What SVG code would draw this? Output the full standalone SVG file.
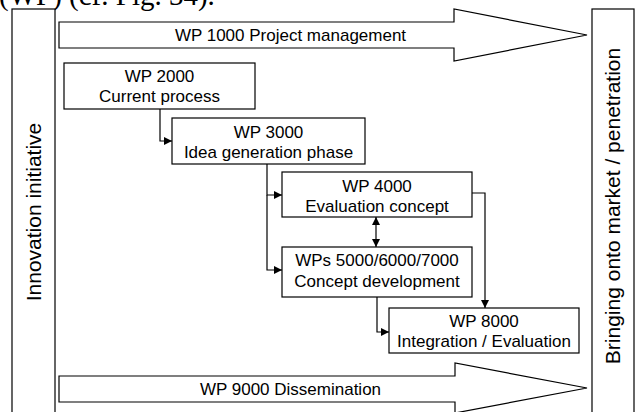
<svg xmlns="http://www.w3.org/2000/svg" width="637" height="412" viewBox="0 0 637 412">
  <style>
    .box { fill: #fff; stroke: #000; stroke-width: 1.2; }
    .lbl { font-family: "Liberation Sans", Arial, sans-serif; font-size: 17px; fill: #000; text-anchor: middle; }
    .side { font-family: "Liberation Sans", Arial, sans-serif; font-size: 21px; fill: #000; text-anchor: middle; }
    .cap { font-family: "Liberation Serif", "Times New Roman", serif; font-size: 29px; fill: #000; }
    .wire { fill: none; stroke: #000; stroke-width: 1.2; }
  </style>
  <defs>
    <marker id="tip" viewBox="0 0 10 10" refX="10" refY="5" markerWidth="9" markerHeight="8" markerUnits="userSpaceOnUse" orient="auto-start-reverse">
      <path d="M0,0 L10,5 L0,10 Z" fill="#000"/>
    </marker>
  </defs>
  <rect width="637" height="412" fill="#fff"/>

  <!-- caption line clipped by the top edge -->
  <text class="cap" x="-1" y="5">(WP) (cf. Fig. 34).</text>

  <g id="innovation">
    <rect class="box" x="12" y="9" width="43" height="410"/>
    <text class="side" transform="translate(41,212) rotate(-90)">Innovation initiative</text>
  </g>

  <g id="market">
    <rect class="box" x="592" y="9" width="42" height="410"/>
    <text class="side" transform="translate(620,206) rotate(-90)">Bringing onto market / penetration</text>
  </g>

  <g id="wp1000">
    <polygon class="box" points="59,22 454,22 454,9 587,35 454,61 454,48 59,48"/>
    <text class="lbl" x="290.5" y="41">WP 1000 Project management</text>
  </g>

  <g id="wp9000">
    <polygon class="box" points="59,376 455,376 455,363 587,388 455,413 455,402 59,402"/>
    <text class="lbl" x="290.5" y="395">WP 9000 Dissemination</text>
  </g>

  <g id="wp2000">
    <rect class="box" x="64" y="63" width="191" height="46"/>
    <text class="lbl" x="159.5" y="82">WP 2000</text>
    <text class="lbl" x="159.5" y="102">Current process</text>
  </g>

  <g id="wp3000">
    <rect class="box" x="172" y="118" width="193" height="46"/>
    <text class="lbl" x="268.5" y="138">WP 3000</text>
    <text class="lbl" x="268.5" y="158">Idea generation phase</text>
  </g>

  <g id="wp4000">
    <rect class="box" x="282" y="172" width="190" height="45"/>
    <text class="lbl" x="377" y="192">WP 4000</text>
    <text class="lbl" x="377" y="212">Evaluation concept</text>
  </g>

  <g id="wp5000">
    <rect class="box" x="282" y="247" width="190" height="50"/>
    <text class="lbl" x="377" y="266">WPs 5000/6000/7000</text>
    <text class="lbl" x="377" y="287">Concept development</text>
  </g>

  <g id="wp8000">
    <rect class="box" x="389" y="308" width="190" height="45"/>
    <text class="lbl" x="484" y="327">WP 8000</text>
    <text class="lbl" x="484" y="347">Integration / Evaluation</text>
  </g>

  <g id="connectors">
    <path class="wire" d="M160,109 V141 H172" marker-end="url(#tip)"/>
    <path class="wire" d="M267,164 V195 H282" marker-end="url(#tip)"/>
    <path class="wire" d="M267,195 V270 H282" marker-end="url(#tip)"/>
    <path class="wire" d="M376,217 V247" marker-start="url(#tip)" marker-end="url(#tip)"/>
    <path class="wire" d="M472,193 H485 V308" marker-end="url(#tip)"/>
    <path class="wire" d="M377,297 V332 H389" marker-end="url(#tip)"/>
  </g>
</svg>
